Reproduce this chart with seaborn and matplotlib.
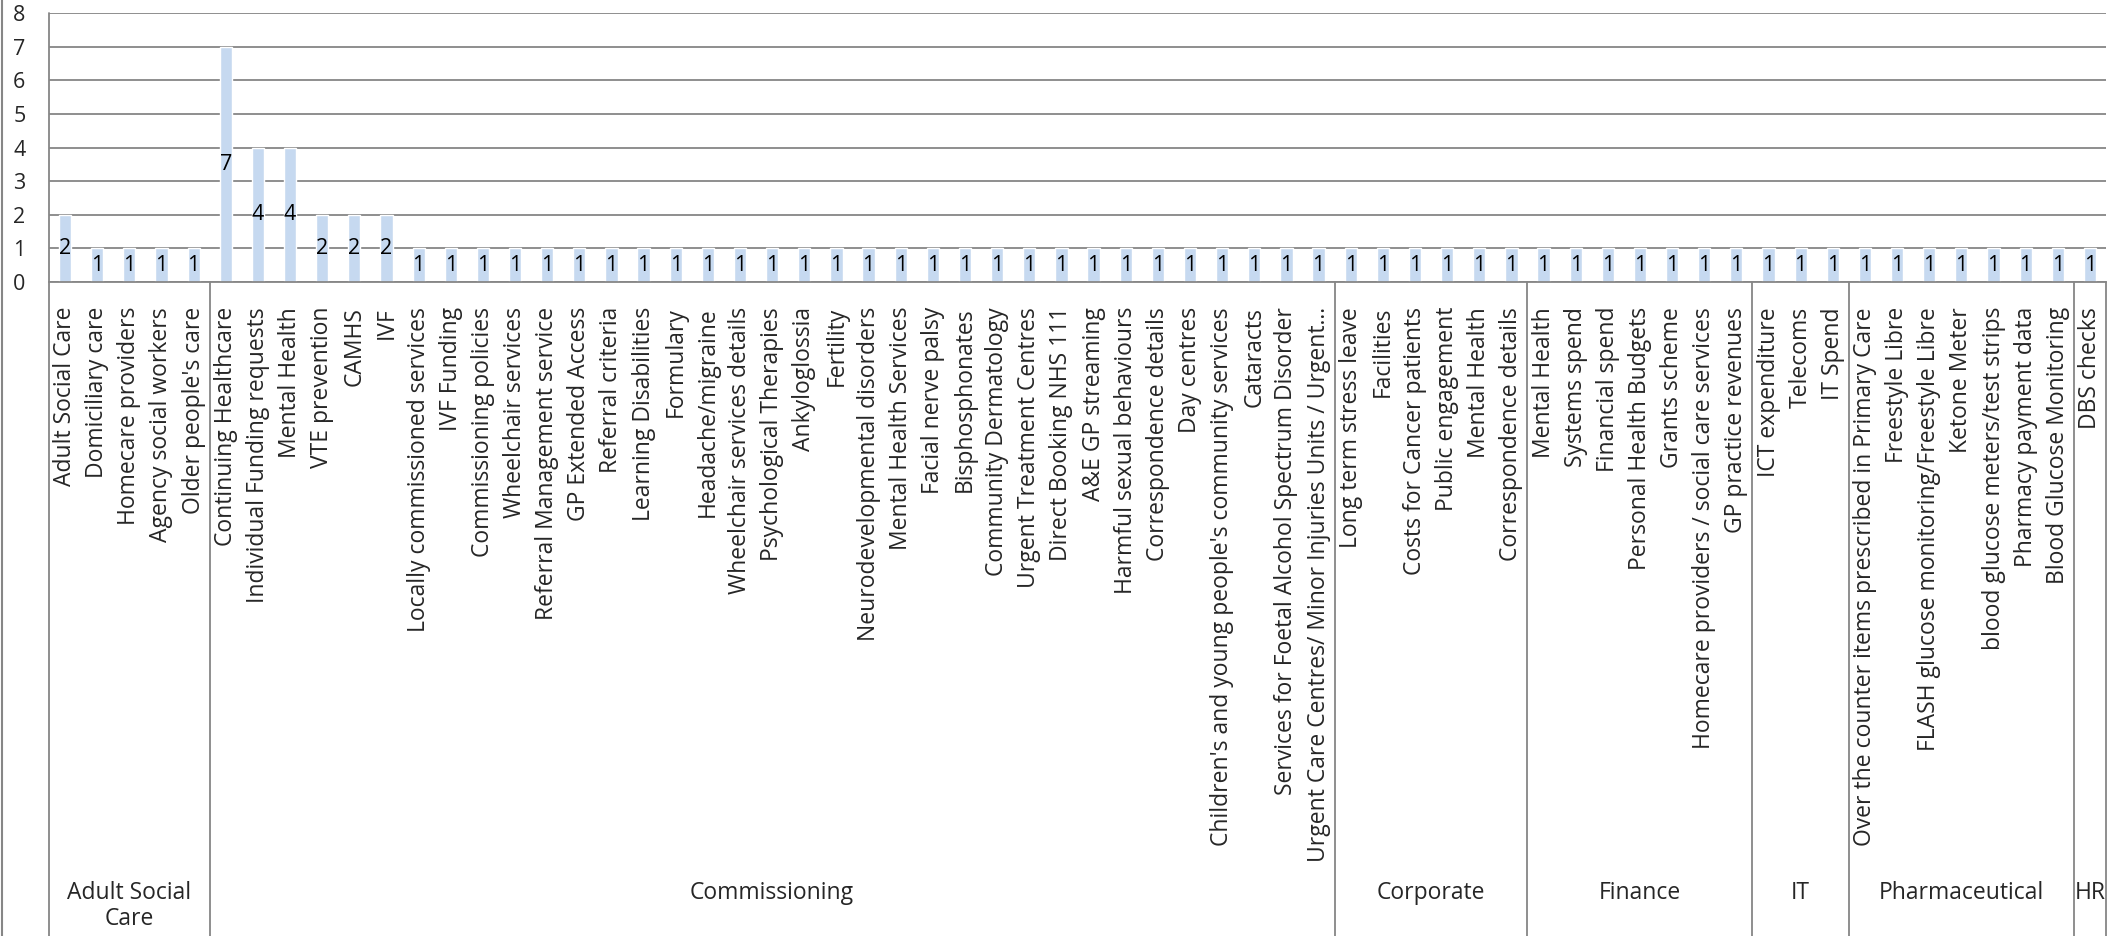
import textwrap
import pandas as pd
import matplotlib
matplotlib.use('Agg')
import matplotlib.pyplot as plt
import matplotlib.transforms as mtransforms
from matplotlib.lines import Line2D
import seaborn as sns

# Topics per directorate and number of requests
adult_social_care = ["Adult Social Care", "Domiciliary care", "Homecare providers",
                     "Agency social workers", "Older people's care"]
adult_social_care_counts = [2, 1, 1, 1, 1]

commissioning = ["Continuing Healthcare", "Individual Funding requests", "Mental Health",
                 "VTE prevention", "CAMHS", "IVF", "Locally commissioned services",
                 "IVF Funding", "Commissioning policies", "Wheelchair services",
                 "Referral Management service", "GP Extended Access", "Referral criteria",
                 "Learning Disabilities", "Formulary", "Headache/migraine",
                 "Wheelchair services details", "Psychological Therapies", "Ankyloglossia",
                 "Fertility", "Neurodevelopmental disorders", "Mental Health Services",
                 "Facial nerve palsy", "Bisphosphonates", "Community Dermatology",
                 "Urgent Treatment Centres", "Direct Booking NHS 111", "A&E GP streaming",
                 "Harmful sexual behaviours", "Correspondence details", "Day centres",
                 "Children's and young people's community services", "Cataracts",
                 "Services for Foetal Alcohol Spectrum Disorder",
                 "Urgent Care Centres/ Minor Injuries Units / Urgent\u2026"]
commissioning_counts = [7, 4, 4, 2, 2, 2] + [1] * 29

corporate = ["Long term stress leave", "Facilities", "Costs for Cancer patients",
             "Public engagement", "Mental Health", "Correspondence details"]
corporate_counts = [1, 1, 1, 1, 1, 1]

finance = ["Mental Health", "Systems spend", "Financial spend", "Personal Health Budgets",
           "Grants scheme", "Homecare providers / social care services", "GP practice revenues"]
finance_counts = [1, 1, 1, 1, 1, 1, 1]

it = ["ICT expenditure", "Telecoms", "IT Spend"]
it_counts = [1, 1, 1]

pharmaceutical = ["Over the counter items prescribed in Primary Care", "Freestyle Libre",
                  "FLASH glucose monitoring/Freestyle Libre", "Ketone Meter",
                  "blood glucose meters/test strips", "Pharmacy payment data",
                  "Blood Glucose Monitoring"]
pharmaceutical_counts = [1, 1, 1, 1, 1, 1, 1]

hr = ["DBS checks"]
hr_counts = [1]

groups = ["Adult Social Care", "Commissioning", "Corporate", "Finance", "IT",
          "Pharmaceutical", "HR"]
group_topics = [adult_social_care, commissioning, corporate, finance, it, pharmaceutical, hr]
group_counts = [adult_social_care_counts, commissioning_counts, corporate_counts,
                finance_counts, it_counts, pharmaceutical_counts, hr_counts]

rows = []
for g, topics, counts in zip(groups, group_topics, group_counts):
    for t, c in zip(topics, counts):
        rows.append({'group': g, 'topic': t, 'count': c, 'key': g + '|' + t})
df = pd.DataFrame(rows)

sns.set_style('white')
plt.rcParams['font.family'] = ['Open Sans', 'DejaVu Sans']

fig = plt.figure(figsize=(21.16, 9.36), dpi=100)
ax = fig.add_axes([49 / 2116, 1 - 282 / 936, (2106 - 49) / 2116, (282 - 13) / 936])

sns.barplot(data=df, x='key', y='count', color='#C6D9F0', width=0.38,
            saturation=1, ax=ax, errorbar=None)
ax.bar_label(ax.containers[0], label_type='center', fontsize=15.5, color='black')

ax.set_ylim(0, 8)
ax.set_xlim(-0.5, len(df) - 0.5)
ax.set_yticks(range(0, 9))
ax.grid(axis='y', color='#868686', linewidth=1.3)
ax.set_axisbelow(True)
for s in ax.spines.values():
    s.set_visible(False)
ax.spines['bottom'].set_visible(True)
ax.spines['bottom'].set_color('#868686')
ax.spines['bottom'].set_linewidth(1.3)

ax.set_xticks(range(len(df)))
ax.set_xticklabels(df['topic'], rotation=90, fontsize=16.5, va='top', ha='center')
ax.tick_params(axis='x', length=0, pad=18)
ax.tick_params(axis='y', length=0, pad=17, labelsize=15.5)
ax.set_xlabel('')
ax.set_ylabel('')

# group separators and group labels under the category labels
trans = mtransforms.blended_transform_factory(ax.transData, ax.transAxes)
bounds = [-0.5]
for counts in group_counts:
    bounds.append(bounds[-1] + len(counts))
for i, b in enumerate(bounds):
    top = 1 if i == 0 else 0
    ax.plot([b, b], [top, -2.6], transform=trans, color='#868686', linewidth=1.3,
            clip_on=False)
for g, lo, hi in zip(groups, bounds[:-1], bounds[1:]):
    ax.text((lo + hi) / 2, -2.225, textwrap.fill(g, 12, break_long_words=False),
            transform=trans, ha='center', va='top', fontsize=16.5, linespacing=1.15)

# chart border on the left
fig.add_artist(Line2D([2 / 2116, 2 / 2116], [0, 1], color='#868686', linewidth=1.5))

fig.savefig('out.png', dpi=100)
